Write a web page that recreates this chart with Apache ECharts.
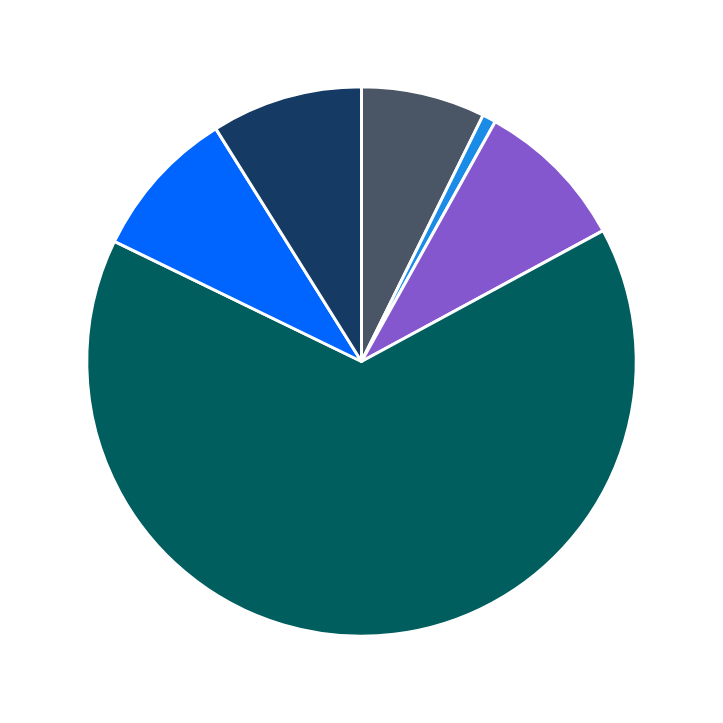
<!DOCTYPE html>
<html><head><meta charset="utf-8">
<script src="https://cdn.jsdelivr.net/npm/echarts@6/dist/echarts.min.js"></script>
<style>html,body{margin:0;padding:0;background:#fff}#c{width:723px;height:723px}</style>
</head><body><div id="c"></div>
<script>
const categories = ['A','B','C','D','E','F'];
const values = [7.3, 0.8, 9.0, 65.1, 8.9, 8.9];
const colors = ['#4a5565','#1a8ce8','#8557cf','#005e5e','#0064ff','#153a64'];
const data = categories.map((n,i)=>({name:n,value:values[i],itemStyle:{color:colors[i]}}));
const chart = echarts.init(document.getElementById('c'));
chart.setOption({
  animation:false,
  series:[
    {type:'pie',center:['50%','50%'],radius:['0%','76%'],startAngle:90,clockwise:true,
     data:data,label:{show:false},labelLine:{show:false},
     itemStyle:{borderColor:'#fff',borderWidth:3}},
    {type:'pie',center:['50%','50%'],radius:['23%','76%'],startAngle:90,clockwise:true,silent:true,
     data:data.map(d=>({name:d.name,value:d.value,itemStyle:{opacity:0}})),
     label:{show:true,position:'inside',color:'#fff',fontWeight:'bold',fontSize:20,fontFamily:'DejaVu Sans',
       formatter:p=>Math.round(p.percent)+'%'},
     labelLine:{show:false}}
  ]
});
</script></body></html>
